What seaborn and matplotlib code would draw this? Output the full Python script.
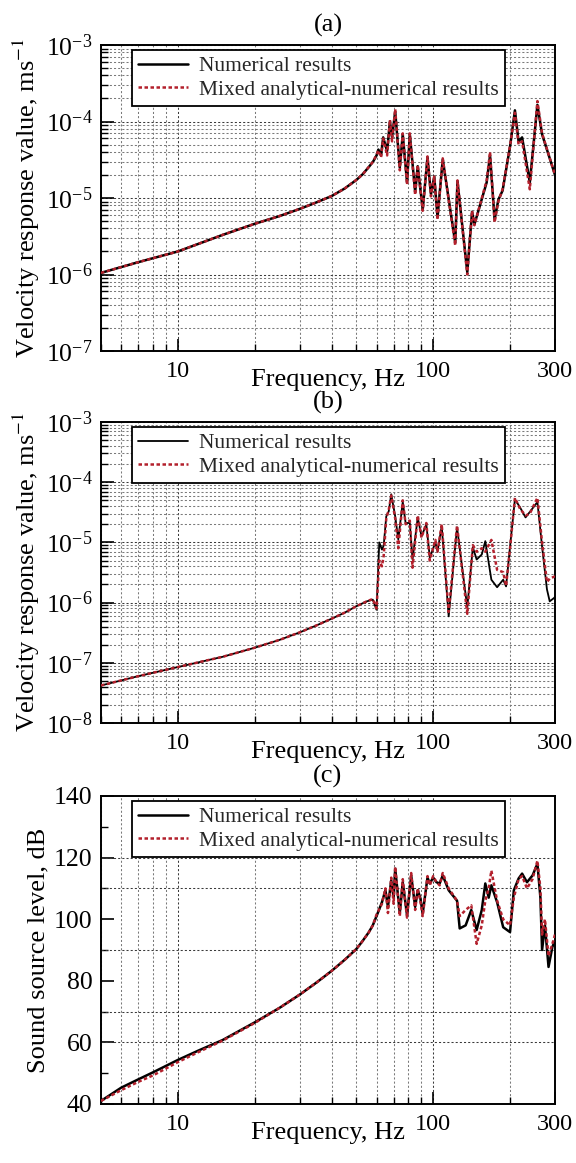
import numpy as np
import pandas as pd
import matplotlib
matplotlib.use("Agg")
import matplotlib.pyplot as plt
import matplotlib.ticker as mticker
import seaborn as sns

# ---------------- data ----------------
# Panel (a)
fa = [5, 7, 10, 15, 20, 25, 30, 35, 40, 45, 50, 53, 56, 58.2, 60, 61, 62.5, 63.7, 66, 67.7, 69, 71, 74,
      76, 79, 81, 85, 87, 91, 95, 98, 101, 104, 109, 122, 124.5, 136, 142, 145, 162, 167, 174, 180,
      187, 200, 209, 216, 223, 239, 256, 267, 300]
va_num = [1.05e-6, 1.45e-6, 2.0e-6, 3.3e-6, 4.6e-6, 5.8e-6, 7.2e-6, 8.8e-6, 1.06e-5, 1.33e-5, 1.72e-5,
          2.05e-5, 2.55e-5, 3.0e-5, 3.6e-5, 4.3e-5, 3.6e-5, 6.2e-5, 4.1e-5, 1.0e-4, 6.2e-5, 1.35e-4, 2.5e-5,
          6.8e-5, 1.6e-5, 6.8e-5, 1.2e-5, 2.6e-5, 7.1e-6, 3.4e-5, 1.12e-5, 1.9e-5, 5.6e-6, 3.2e-5, 2.6e-6,
          1.66e-5, 1.07e-6, 6.6e-6, 4.5e-6, 1.6e-5, 3.6e-5, 5.2e-6, 9.5e-6,
          1.25e-5, 4.7e-5, 1.4e-4, 5.5e-5, 6.2e-5, 1.6e-5, 1.65e-4, 6.8e-5, 2.0e-5]
va_mix = [1.05e-6, 1.45e-6, 2.0e-6, 3.3e-6, 4.6e-6, 5.8e-6, 7.2e-6, 8.8e-6, 1.06e-5, 1.33e-5, 1.72e-5,
          2.05e-5, 2.55e-5, 3.0e-5, 3.7e-5, 4.2e-5, 3.4e-5, 6.0e-5, 3.6e-5, 1.05e-4, 5.5e-5, 1.45e-4, 2.3e-5,
          7.0e-5, 1.5e-5, 7.0e-5, 1.1e-5, 2.7e-5, 6.8e-6, 3.5e-5, 1.05e-5, 1.9e-5, 5.2e-6, 3.3e-5, 2.4e-6,
          1.7e-5, 1.0e-6, 6.8e-6, 4.4e-6, 1.7e-5, 4.0e-5, 4.8e-6, 9.0e-6,
          1.3e-5, 4.8e-5, 1.3e-4, 5.0e-5, 5.5e-5, 1.3e-5, 1.85e-4, 7.0e-5, 2.0e-5]

# Panel (b)
fb = [5, 7, 10, 15, 20, 25, 30, 35, 40, 45, 50, 55, 58, 60, 61.5, 63, 64, 65.5, 67, 68.5, 71, 73, 76,
      78, 81, 83, 87, 90, 94, 97, 102, 104, 108, 115, 124, 136, 143, 148, 155, 160, 169, 178, 188, 193,
      200, 209, 219, 230, 239, 256, 267, 279, 286, 298, 300]
vb_num = [4.2e-8, 6.0e-8, 8.5e-8, 1.26e-7, 1.78e-7, 2.4e-7, 3.2e-7, 4.2e-7, 5.4e-7, 6.8e-7, 8.7e-7,
          1.05e-6, 1.12e-6, 7.6e-7, 1.0e-5, 7.6e-6, 8.9e-6, 2.7e-5, 3.3e-5, 6.3e-5, 2.7e-5, 1.12e-5, 4.7e-5,
          2.1e-5, 2.1e-5, 5.2e-6, 2.6e-5, 1.26e-5, 2.0e-5, 5.6e-6, 1.0e-5, 7.1e-6, 1.86e-5, 5.9e-7, 1.78e-5,
          8.3e-7, 8.3e-6, 5.2e-6, 6.3e-6, 1.05e-5, 2.4e-6, 1.8e-6, 2.4e-6, 1.86e-6,
          8.5e-6, 5.2e-5, 3.8e-5, 2.6e-5, 3.2e-5, 4.7e-5, 8.5e-6, 1.66e-6, 1.05e-6, 1.2e-6, 1.25e-6]
vb_mix = [4.2e-8, 6.0e-8, 8.5e-8, 1.26e-7, 1.78e-7, 2.4e-7, 3.2e-7, 4.2e-7, 5.4e-7, 6.8e-7, 8.7e-7,
          1.05e-6, 1.15e-6, 8.0e-7, 5.0e-6, 4.0e-6, 6.0e-6, 2.5e-5, 3.5e-5, 6.0e-5, 2.5e-5, 8.0e-6, 5.0e-5,
          2.0e-5, 2.3e-5, 3.8e-6, 2.8e-5, 1.2e-5, 2.1e-5, 5.0e-6, 1.1e-5, 7.0e-6, 2.0e-5, 7.0e-7, 1.9e-5,
          6.5e-7, 9.0e-6, 7.0e-6, 8.0e-6, 7.0e-6, 1.1e-5, 3.5e-6, 3.2e-6, 1.9e-6,
          8.0e-6, 5.5e-5, 3.6e-5, 2.8e-5, 3.0e-5, 5.5e-5, 1.0e-5, 2.2e-6, 2.5e-6, 2.7e-6, 2.4e-6]

# Panel (c)
fc = [5, 6, 7, 8, 10, 12, 15, 20, 25, 30, 35, 40, 45, 50, 53, 56, 58, 60, 63, 65, 66.5, 68.5, 70, 71, 74,
      76, 79, 82, 85, 87, 89, 91, 95, 97, 100, 103, 106, 109, 115, 124, 127, 134, 141, 148, 155, 160,
      165, 169, 178, 188, 200, 207, 216, 223, 233, 245, 256, 263, 267, 274, 283, 293, 300]
lc_num = [41, 45.3, 48, 50.3, 54.3, 57.3, 60.8, 66.5, 71.2, 75.5, 79.5, 83.2, 86.8, 90.3, 93.0,
          95.8, 98, 101, 105.5, 109.4, 104, 112.6, 107, 116.4, 102, 112, 101.3, 114.2, 104, 109.4, 107, 101.9,
          113.5, 111.6, 113.5, 112, 111.6, 114.2, 109.4, 106, 97, 98, 103, 96.5, 103, 111.6,
          107, 111, 105.5, 97.4, 95.8, 109.4, 113.2, 114.8, 112, 114.2, 118, 107, 90, 98, 84.5, 91, 93]
lc_mix = [41, 44.5, 47.2, 49.3, 53.6, 56.8, 60.6, 66.3, 71.2, 75.5, 79.5, 83.2, 86.8, 90.3, 93.0,
          95.8, 98, 101.5, 105, 110, 102, 113.5, 105, 117, 101, 113, 100.5, 115, 103, 110, 106, 101,
          114, 111, 114, 112, 111, 115, 110, 106, 101, 103, 104.5, 92, 98, 106,
          110, 115.8, 106, 100, 98, 107, 113, 114, 110, 113, 119, 110, 95, 100, 88, 92, 95]

labels = ["Numerical results", "Mixed analytical-numerical results"]
panel_titles = ["(a)", "(b)", "(c)"]
ylabels = ["Velocity response value, ms$^{-1}$", "Velocity response value, ms$^{-1}$",
           "Sound source level, dB"]
xlabel = "Frequency, Hz"
xticks = [10, 100, 300]
c_grid_levels = [60, 70, 90, 110, 120]

# ---------------- style ----------------
sns.set_theme(style="ticks")
plt.rcParams["font.family"] = ["Liberation Serif", "DejaVu Serif"]
plt.rcParams["mathtext.fontset"] = "stix"
plt.rcParams["axes.linewidth"] = 1.4
plt.rcParams["axes.edgecolor"] = "black"

W, H = 576, 1163
fig = plt.figure(figsize=(W / 100, H / 100), dpi=100)
left, right = 101 / W, 555 / W
boxes = [(45, 351), (422, 723), (796, 1104)]
axes = []
for top, bot in boxes:
    axes.append(fig.add_axes([left, 1 - bot / H, right - left, (bot - top) / H]))

RED = "#b3202c"
data = [(fa, va_num, va_mix, 1.8), (fb, vb_num, vb_mix, 1.3), (fc, lc_num, lc_mix, 1.8)]

for i, ax in enumerate(axes):
    f, yn, ym, lwn = data[i]
    dfn = pd.DataFrame({"f": f, "v": yn})
    dfm = pd.DataFrame({"f": f, "v": ym})
    ax.set_xscale("log")
    if i < 2:
        ax.set_yscale("log")
    sns.lineplot(data=dfn, x="f", y="v", ax=ax, color="black", lw=lwn, sort=False,
                 estimator=None, label=labels[0], zorder=3)
    sns.lineplot(data=dfm, x="f", y="v", ax=ax, color=RED, lw=1.8, sort=False,
                 estimator=None, label=labels[1], zorder=4)
    ax.lines[1].set_linestyle((0, (1.4, 1.0)))

    ax.set_xlim(5, 300)
    ax.xaxis.set_major_locator(mticker.FixedLocator(xticks))
    ax.xaxis.set_major_formatter(mticker.FixedFormatter([str(t) for t in xticks]))
    ax.xaxis.set_minor_locator(mticker.LogLocator(base=10, subs=np.arange(2, 10)))
    ax.xaxis.set_minor_formatter(mticker.NullFormatter())

    gridkw = dict(linestyle=(0, (2, 2)), linewidth=0.75)
    if i < 2:
        ax.set_ylim((1e-7, 1e-3) if i == 0 else (1e-8, 1e-3))
        ax.yaxis.set_major_locator(mticker.LogLocator(base=10, numticks=10))
        ax.yaxis.set_minor_locator(mticker.LogLocator(base=10, subs=np.arange(2, 10), numticks=20))
        ax.yaxis.set_minor_formatter(mticker.NullFormatter())
        ax.grid(True, which="major", axis="both", color="#3a3a3a", **gridkw)
        ax.grid(True, which="minor", axis="both", color="#7a7a7a", **gridkw)
    else:
        ax.set_ylim(40, 140)
        ax.yaxis.set_major_locator(mticker.MultipleLocator(20))
        ax.yaxis.set_minor_locator(mticker.MultipleLocator(10))
        ax.grid(True, which="major", axis="x", color="#3a3a3a", **gridkw)
        ax.grid(True, which="minor", axis="x", color="#7a7a7a", **gridkw)
        for lv in c_grid_levels:
            ax.axhline(lv, color="#3a3a3a", zorder=1, **gridkw)

    ax.tick_params(axis="both", which="major", direction="in", length=9, width=1.2,
                   labelsize=17.5, colors="black", pad=7)
    ax.tick_params(axis="both", which="minor", direction="in", length=5, width=1.0, colors="black")
    ax.tick_params(axis="y", which="major", labelsize=18.5, pad=6)

    ax.set_xlabel(xlabel, fontsize=19, labelpad=-9, color="black")
    ax.set_ylabel(ylabels[i], fontsize=19, labelpad=3, color="black")
    ax.set_title(panel_titles[i], fontsize=19, pad=10, color="black")
    for sp in ax.spines.values():
        sp.set_linewidth(1.4)
        sp.set_color("black")

    leg = ax.legend(loc="upper left", bbox_to_anchor=(0.068, 0.984), borderaxespad=0,
                    fontsize=15.5, frameon=True, fancybox=False, framealpha=1,
                    edgecolor="black", handlelength=2.3, handletextpad=0.5,
                    borderpad=0.3, labelspacing=0.15)
    leg.get_frame().set_linewidth(1.3)
    leg.set_zorder(10)

fig.savefig("out.png", dpi=100)
